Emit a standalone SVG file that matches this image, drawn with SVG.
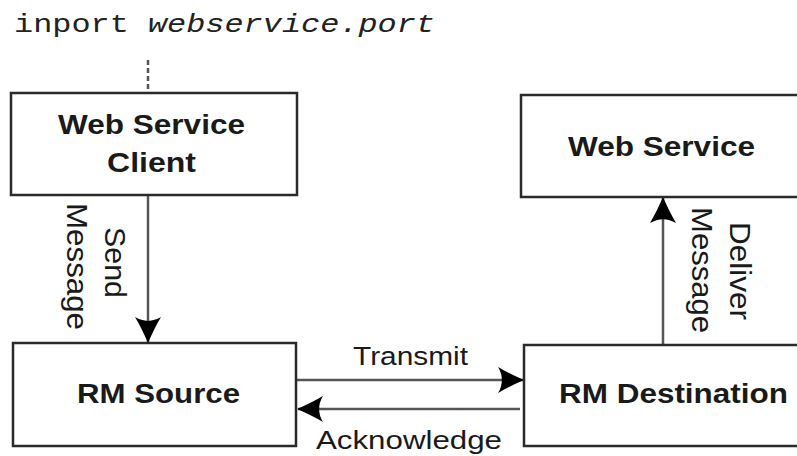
<svg xmlns="http://www.w3.org/2000/svg" width="797" height="456" viewBox="0 0 797 456">
<style>
.box{fill:#fff;stroke:#2a2a2a;stroke-width:2.5}
.bt{font-family:"Liberation Sans",Arial,sans-serif;font-weight:bold;font-size:27px;fill:#1a1a1a;text-anchor:middle}
.lt{font-family:"Liberation Sans",Arial,sans-serif;font-size:25px;fill:#1a1a1a;text-anchor:middle}
.rt{font-family:"Liberation Sans",Arial,sans-serif;font-size:30px;fill:#1a1a1a;text-anchor:middle}
.code{font-family:"Liberation Mono","Courier New",monospace;font-size:26px;fill:#222}
.ln{fill:none;stroke:#555;stroke-width:2.5}
</style>
<defs>
<marker id="ah" markerUnits="userSpaceOnUse" markerWidth="26" markerHeight="26" viewBox="0 -12 24 24" refX="23" refY="0" orient="auto">
<path d="M0,-12 Q10,-6 24,0 Q10,6 0,12 Q7,0 0,-12 z" fill="#000"/>
</marker>
</defs>
<text class="code" x="14" y="32" textLength="421" lengthAdjust="spacingAndGlyphs">inport <tspan font-style="italic">webservice.port</tspan></text>
<g id="connectors">
<line class="ln" x1="148" y1="60" x2="148" y2="93" stroke-dasharray="5,3"/>
<line class="ln" x1="148" y1="196" x2="148" y2="342" marker-end="url(#ah)"/>
<line class="ln" x1="663" y1="345" x2="663" y2="198" marker-end="url(#ah)"/>
<line class="ln" x1="297" y1="380" x2="523" y2="380" marker-end="url(#ah)"/>
<line class="ln" x1="520" y1="409" x2="298" y2="409" marker-end="url(#ah)"/>
<text class="rt" transform="translate(105,262.5) rotate(90)" textLength="71" lengthAdjust="spacingAndGlyphs">Send</text>
<text class="rt" transform="translate(67,266.5) rotate(90)" textLength="127" lengthAdjust="spacingAndGlyphs">Message</text>
<text class="rt" transform="translate(730,271) rotate(90)" textLength="98" lengthAdjust="spacingAndGlyphs">Deliver</text>
<text class="rt" transform="translate(692,270) rotate(90)" textLength="126" lengthAdjust="spacingAndGlyphs">Message</text>
<text class="lt" x="410.5" y="365" textLength="115" lengthAdjust="spacingAndGlyphs">Transmit</text>
<text class="lt" x="409" y="449" textLength="186" lengthAdjust="spacingAndGlyphs">Acknowledge</text>
</g>
<g id="client">
<rect class="box" x="11" y="93" width="286" height="102"/>
<text class="bt" x="151.5" y="134" textLength="187" lengthAdjust="spacingAndGlyphs">Web Service</text>
<text class="bt" x="151.5" y="172" textLength="89" lengthAdjust="spacingAndGlyphs">Client</text>
</g>
<g id="webservice">
<rect class="box" x="521" y="95" width="300" height="102"/>
<text class="bt" x="661.5" y="156" textLength="187" lengthAdjust="spacingAndGlyphs">Web Service</text>
</g>
<g id="rmsource">
<rect class="box" x="13" y="343" width="283" height="103"/>
<text class="bt" x="158.5" y="403" textLength="163" lengthAdjust="spacingAndGlyphs">RM Source</text>
</g>
<g id="rmdest">
<rect class="box" x="524" y="345" width="300" height="101"/>
<text class="bt" x="673.5" y="403" textLength="229" lengthAdjust="spacingAndGlyphs">RM Destination</text>
</g>
</svg>
